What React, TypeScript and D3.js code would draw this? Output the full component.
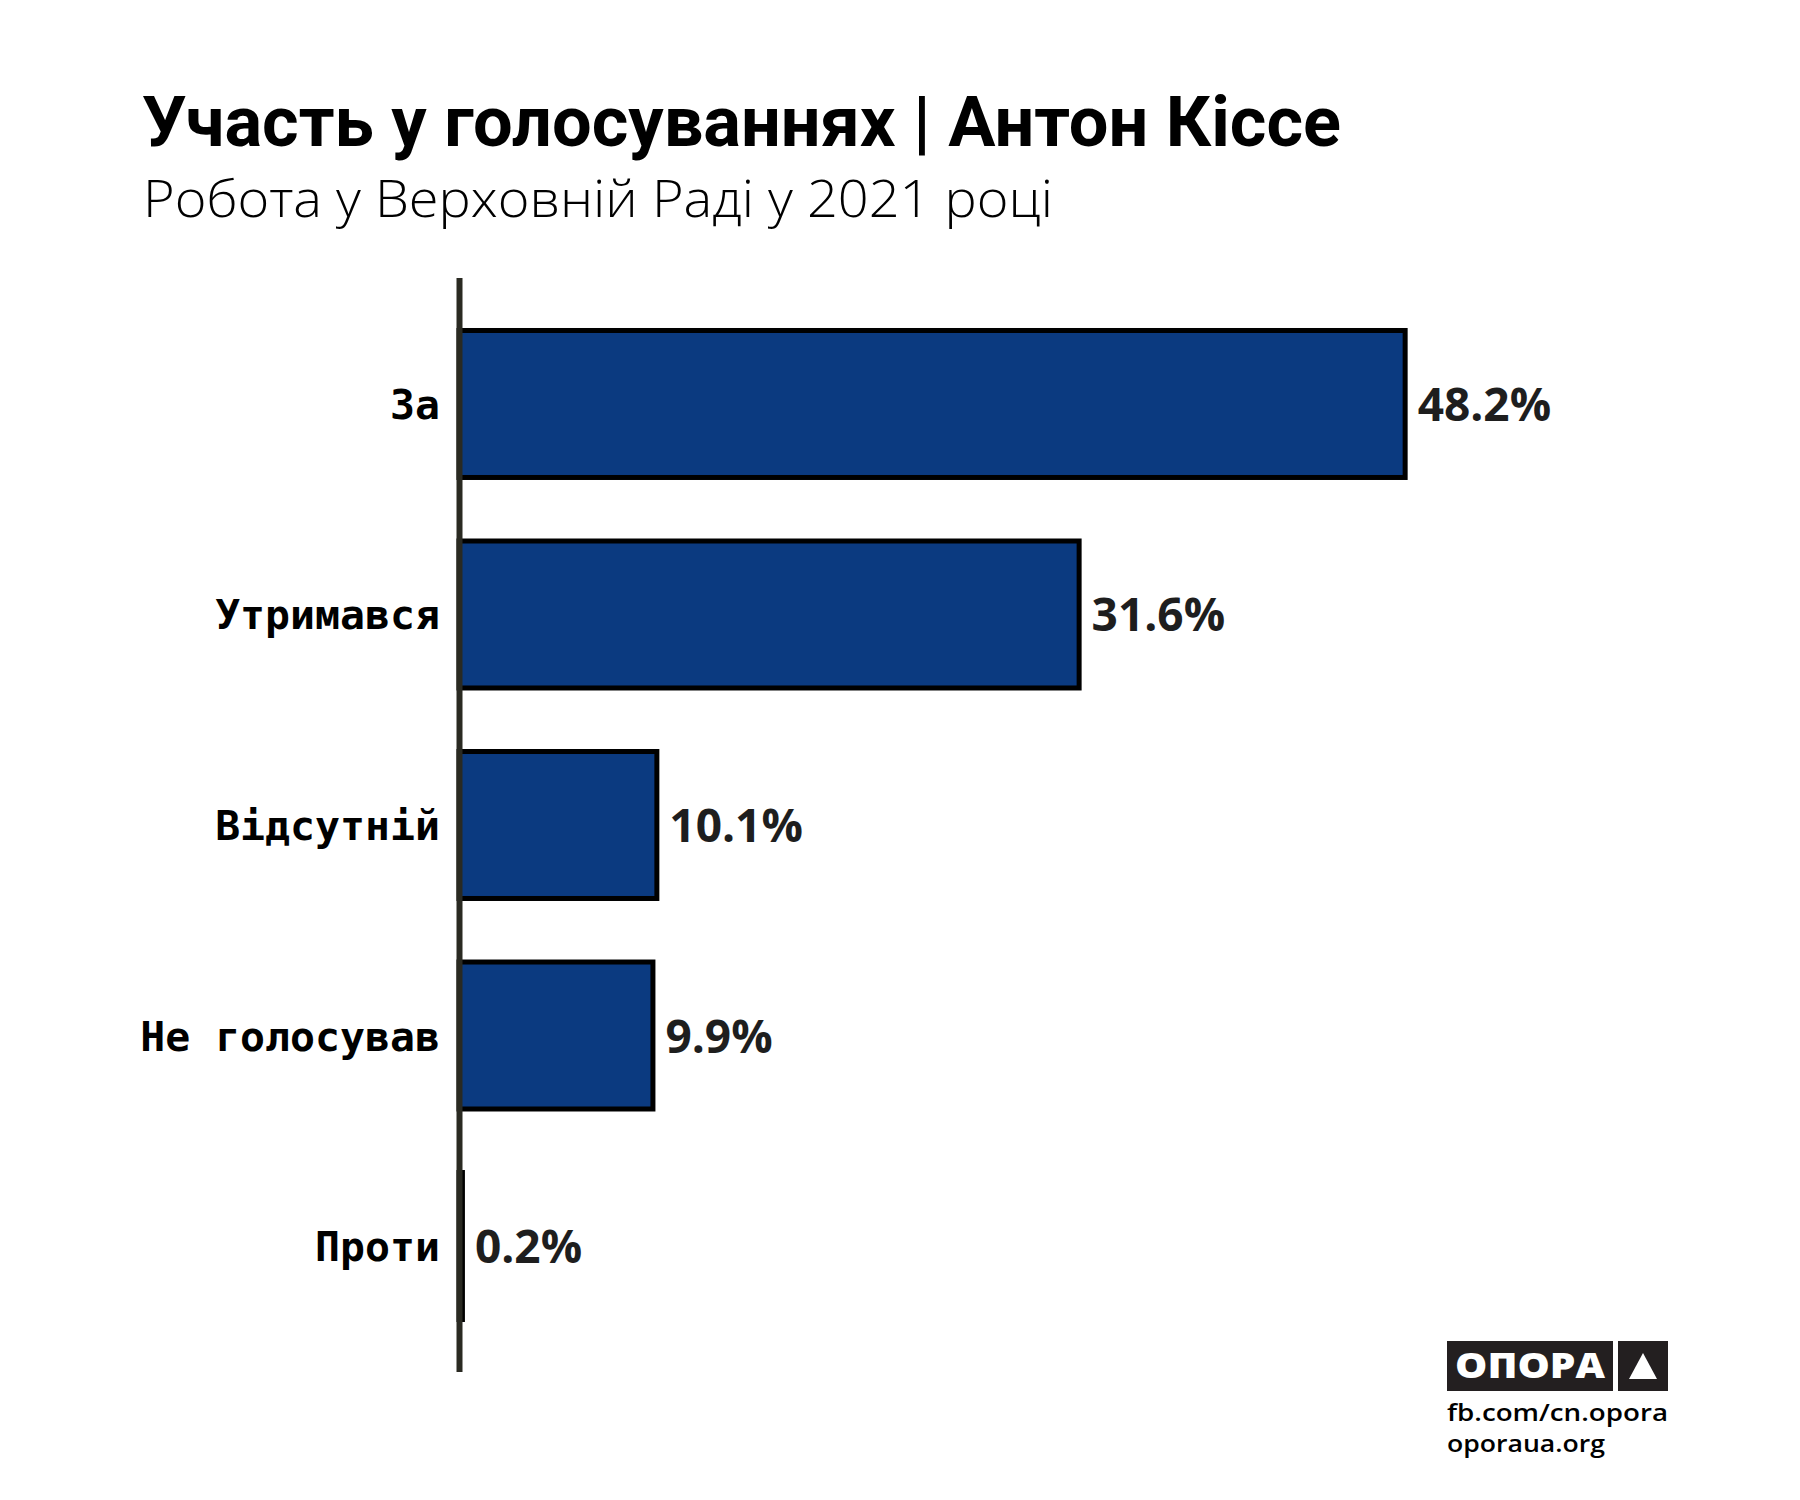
import React from "react";
import * as d3 from "d3";

const categories = ["За", "Утримався", "Відсутній", "Не голосував", "Проти"];
const values = [48.2, 31.6, 10.1, 9.9, 0.2];
const valueLabels = ["48.2%", "31.6%", "10.1%", "9.9%", "0.2%"];

const W = 1800;
const H = 1500;
const SW = 5;

export default function App() {
  const x = d3.scaleLinear().domain([0, 50]).range([461, 461 + 50 * 19.64]);
  const y = d3
    .scaleBand<string>()
    .domain(categories)
    .range([278, 1372])
    .paddingInner(0.278)
    .paddingOuter(0.2375);
  const bw = y.bandwidth();

  return (
    <div style={{ position: "absolute", left: 0, top: 0 }}>
      <svg width={W} height={H} viewBox={`0 0 ${W} ${H}`} style={{ display: "block", background: "#fff" }}>
        <rect x={0} y={0} width={W} height={H} fill="#fff" />
        <text
          x={142}
          y={146}
          fontFamily="Roboto"
          fontWeight={700}
          fontSize={71}
          fill="#000"
          textLength={1199}
          lengthAdjust="spacingAndGlyphs"
        >
          Участь у голосуваннях | Антон Кіссе
        </text>
        <text
          x={143}
          y={217}
          fontFamily="'Open Sans'"
          fontWeight={300}
          fontSize={52}
          fill="#000"
          textLength={910}
          lengthAdjust="spacingAndGlyphs"
        >
          Робота у Верховній Раді у 2021 році
        </text>

        {categories.map((c, i) => {
          const top = y(c)!;
          const x0 = x(0) - 2;
          const right = x(values[i]);
          return (
            <rect
              key={c}
              x={x0}
              y={top + SW / 2}
              width={Math.max(0.5, right - SW / 2 - x0)}
              height={bw - SW}
              fill="#0b3a80"
              stroke="#000"
              strokeWidth={SW}
            />
          );
        })}

        <line x1={459.5} x2={459.5} y1={y.range()[0]} y2={y.range()[1]} stroke="#2a2a22" strokeWidth={6} />

        {categories.map((c, i) => {
          const cy = y(c)! + bw / 2;
          return (
            <g key={"l" + c}>
              <text
                x={440}
                y={cy + 15}
                textAnchor="end"
                fontFamily="'DejaVu Sans Mono'"
                fontWeight={700}
                fontSize={41.5}
                fill="#000"
              >
                {c}
              </text>
              <text
                x={x(values[i]) + 10}
                y={cy + 17}
                fontFamily="'Open Sans'"
                fontWeight={700}
                fontSize={46}
                fill="#1e1e1e"
              >
                {valueLabels[i]}
              </text>
            </g>
          );
        })}

        <g>
          <rect x={1447} y={1341} width={166} height={50} fill="#231f20" />
          <rect x={1618} y={1341} width={50} height={50} fill="#231f20" />
          <path d="M1643,1353 L1657,1379 L1629,1379 Z" fill="#fff" />
          <text
            x={1455}
            y={1378}
            fontFamily="'Open Sans'"
            fontWeight={800}
            fontSize={35}
            fill="#fff"
            textLength={150}
            lengthAdjust="spacingAndGlyphs"
          >
            ОПОРА
          </text>
          <text
            x={1447}
            y={1421}
            fontFamily="'Open Sans'"
            fontWeight={600}
            fontSize={24}
            fill="#000"
            textLength={221}
            lengthAdjust="spacingAndGlyphs"
          >
            fb.com/cn.opora
          </text>
          <text
            x={1447}
            y={1452}
            fontFamily="'Open Sans'"
            fontWeight={600}
            fontSize={24}
            fill="#000"
            textLength={158}
            lengthAdjust="spacingAndGlyphs"
          >
            oporaua.org
          </text>
        </g>
      </svg>
    </div>
  );
}
